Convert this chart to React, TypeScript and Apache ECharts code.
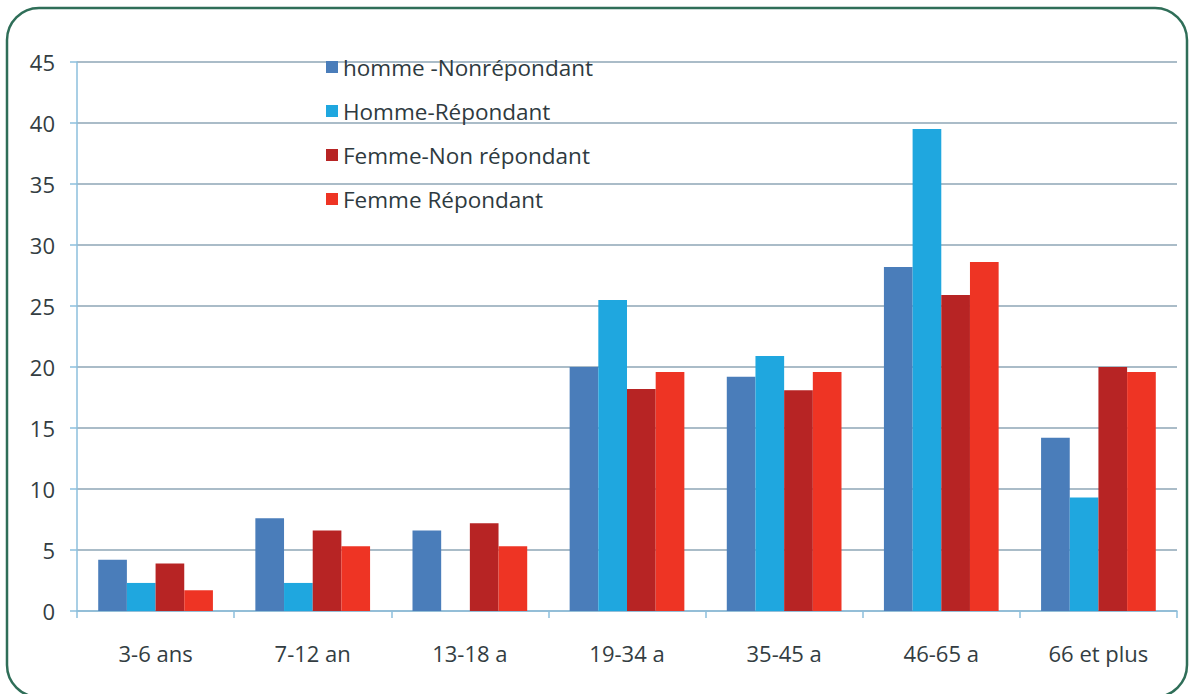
import React, { useEffect, useRef } from "react";
import * as echarts from "echarts";

const categories = ["3-6 ans", "7-12 an", "13-18 a", "19-34 a", "35-45 a", "46-65 a", "66 et plus"];
const seriesNames = ["homme -Nonrépondant", "Homme-Répondant", "Femme-Non répondant", "Femme Répondant"];
const hommeNonRepondant = [4.2, 7.6, 6.6, 20, 19.2, 28.2, 14.2];
const hommeRepondant = [2.3, 2.3, 0, 25.5, 20.9, 39.5, 9.3];
const femmeNonRepondant = [3.9, 6.6, 7.2, 18.2, 18.1, 25.9, 20];
const femmeRepondant = [1.7, 5.3, 5.3, 19.6, 19.6, 28.6, 19.6];
const colors = ["#4a7dba", "#1fa7df", "#b72424", "#ee3424"];

export default function App() {
  const ref = useRef<HTMLDivElement>(null);
  useEffect(() => {
    if (!ref.current) return;
    const chart = echarts.init(ref.current, null, { renderer: "svg" });
    const dataSets = [hommeNonRepondant, hommeRepondant, femmeNonRepondant, femmeRepondant];
    const font = "'Open Sans', Lato, sans-serif";
    chart.setOption({
      animation: false,
      backgroundColor: "#ffffff",
      textStyle: { fontFamily: font },
      grid: { left: 77, right: 12, top: 62, bottom: 83, containLabel: false },
      legend: {
        orient: "vertical",
        left: 321,
        top: 50,
        icon: "rect",
        itemWidth: 12,
        itemHeight: 12,
        itemGap: 20,
        data: seriesNames,
        textStyle: { fontSize: 22.5, color: "#2e3a40", fontFamily: font, lineHeight: 24 },
      },
      xAxis: {
        type: "category",
        data: categories,
        axisLine: { show: true, lineStyle: { color: "#8cbfdc", width: 1.5 } },
        axisTick: { show: true, length: 7, alignWithLabel: false, lineStyle: { color: "#8cbfdc", width: 1.5 } },
        axisLabel: { margin: 31, fontSize: 22, color: "#333d42", fontFamily: font },
      },
      yAxis: {
        type: "value",
        min: 0,
        max: 45,
        interval: 5,
        axisLine: { show: true, lineStyle: { color: "#8cbfdc", width: 1.5 } },
        axisTick: { show: true, length: 7, lineStyle: { color: "#8cbfdc", width: 1.5 } },
        splitLine: { show: true, lineStyle: { color: "#8ea6b6", width: 1.5 } },
        axisLabel: { margin: 22, fontSize: 22, color: "#333d42", fontFamily: font },
      },
      series: seriesNames.map((name, i) => ({
        name,
        type: "bar",
        data: dataSets[i],
        barGap: "0%",
        barCategoryGap: "27%",
        itemStyle: { color: colors[i] },
      })),
      graphic: [
        {
          type: "rect",
          z: 100,
          silent: true,
          shape: { x: 7, y: 8, width: 1180, height: 689, r: 32 },
          style: { fill: "none", stroke: "#2f6e58", lineWidth: 2.5 },
        },
      ],
    });
    return () => chart.dispose();
  }, []);
  return (
    <div
      ref={ref}
      style={{ position: "fixed", left: 0, top: 0, width: 1189, height: 694 }}
    />
  );
}
